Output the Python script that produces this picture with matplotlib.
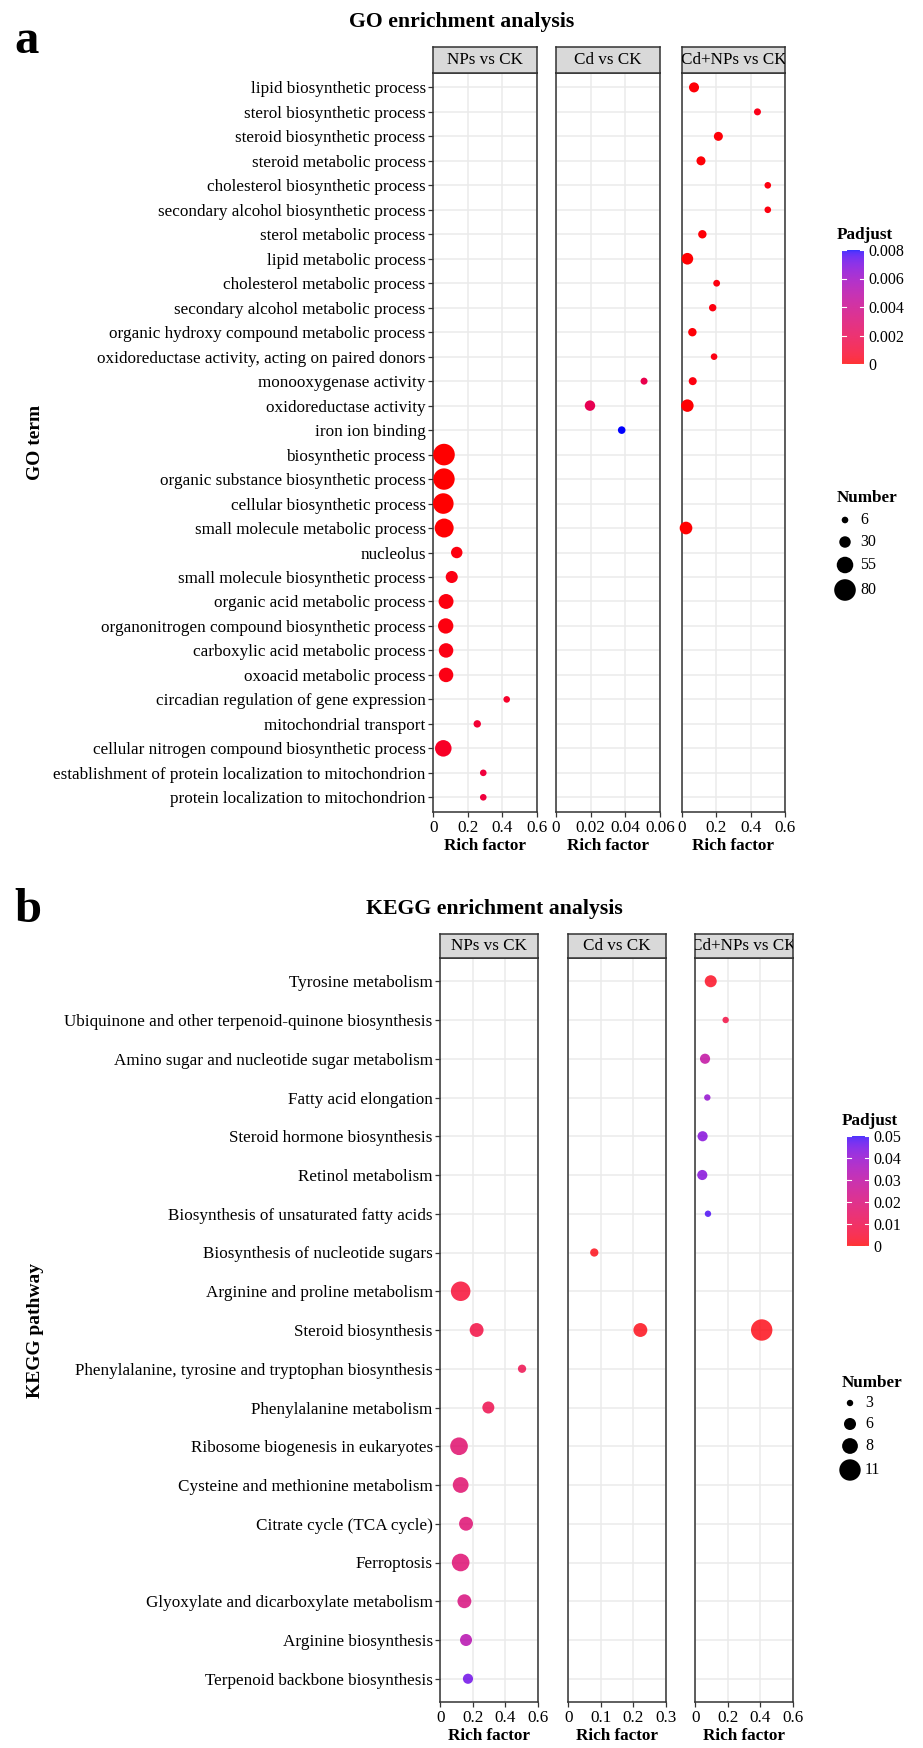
import numpy as np
import matplotlib
matplotlib.use('Agg')
import matplotlib.pyplot as plt
from matplotlib.colors import ListedColormap, Normalize

plt.rcParams['font.family'] = ['Liberation Serif', 'DejaVu Serif']

# ---------------- data ----------------
go_terms = [
    "lipid biosynthetic process", "sterol biosynthetic process", "steroid biosynthetic process",
    "steroid metabolic process", "cholesterol biosynthetic process",
    "secondary alcohol biosynthetic process", "sterol metabolic process", "lipid metabolic process",
    "cholesterol metabolic process", "secondary alcohol metabolic process",
    "organic hydroxy compound metabolic process", "oxidoreductase activity, acting on paired donors",
    "monooxygenase activity", "oxidoreductase activity", "iron ion binding", "biosynthetic process",
    "organic substance biosynthetic process", "cellular biosynthetic process",
    "small molecule metabolic process", "nucleolus", "small molecule biosynthetic process",
    "organic acid metabolic process", "organonitrogen compound biosynthetic process",
    "carboxylic acid metabolic process", "oxoacid metabolic process",
    "circadian regulation of gene expression", "mitochondrial transport",
    "cellular nitrogen compound biosynthetic process",
    "establishment of protein localization to mitochondrion", "protein localization to mitochondrion",
]
go_groups = ["NPs vs CK", "Cd vs CK", "Cd+NPs vs CK"]
nan = np.nan
# NPs vs CK
go_np_rich = [nan]*15 + [0.062, 0.062, 0.058, 0.063, 0.136, 0.107, 0.074, 0.072, 0.074, 0.074,
                         0.426, 0.255, 0.058, 0.290, 0.290]
go_np_num = [nan]*15 + [80, 79, 75, 67, 30, 33, 47, 49, 45, 45, 6, 10, 55, 6, 6]
go_np_padj = [nan]*15 + [0.00001, 0.00001, 0.00002, 0.00005, 0.0002, 0.0003, 0.0002, 0.0002,
                         0.0003, 0.0003, 0.0008, 0.0011, 0.0007, 0.0014, 0.0014]
# Cd vs CK
go_cd_rich = [nan]*12 + [0.0508, 0.0196, 0.0379] + [nan]*15
go_cd_num = [nan]*12 + [8, 25, 11] + [nan]*15
go_cd_padj = [nan]*12 + [0.0019, 0.0021, 0.0080] + [nan]*15
# Cd+NPs vs CK
go_cdnp_rich = [0.0715, 0.44, 0.213, 0.112, 0.50, 0.50, 0.12, 0.033, 0.203, 0.18, 0.062, 0.188,
                0.064, 0.033, nan, nan, nan, nan, 0.025] + [nan]*11
go_cdnp_num = [23, 8, 18, 18, 6, 6, 15, 31, 7, 10, 15, 6, 13, 35, nan, nan, nan, nan, 36] + [nan]*11
go_cdnp_padj = [0.0001, 0.0004, 0.0001, 0.0001, 0.0002, 0.0002, 0.0001, 0.00005, 0.0002, 0.0002,
                0.0001, 0.0003, 0.0002, 0.00005, nan, nan, nan, nan, 0.00005] + [nan]*11

kegg_terms = [
    "Tyrosine metabolism", "Ubiquinone and other terpenoid-quinone biosynthesis",
    "Amino sugar and nucleotide sugar metabolism", "Fatty acid elongation",
    "Steroid hormone biosynthesis", "Retinol metabolism", "Biosynthesis of unsaturated fatty acids",
    "Biosynthesis of nucleotide sugars", "Arginine and proline metabolism", "Steroid biosynthesis",
    "Phenylalanine, tyrosine and tryptophan biosynthesis", "Phenylalanine metabolism",
    "Ribosome biogenesis in eukaryotes", "Cysteine and methionine metabolism",
    "Citrate cycle (TCA cycle)", "Ferroptosis", "Glyoxylate and dicarboxylate metabolism",
    "Arginine biosynthesis", "Terpenoid backbone biosynthesis",
]
kegg_np_rich = [nan]*8 + [0.125, 0.223, 0.502, 0.295, 0.115, 0.125, 0.158, 0.125, 0.148, 0.158, 0.170]
kegg_np_num = [nan]*8 + [10, 7, 4, 6, 9, 8, 7, 9, 7, 6, 5]
kegg_np_padj = [nan]*8 + [0.005, 0.0075, 0.010, 0.010, 0.017, 0.017, 0.018, 0.018, 0.021, 0.032, 0.045]
kegg_cd_rich = [nan]*7 + [0.080, nan, 0.222] + [nan]*9
kegg_cd_num = [nan]*7 + [4, nan, 7] + [nan]*9
kegg_cd_padj = [nan]*7 + [0.001, nan, 0.001] + [nan]*9
kegg_cdnp_rich = [0.095, 0.187, 0.060, 0.074, 0.045, 0.043, 0.078, nan, nan, 0.409] + [nan]*9
kegg_cdnp_num = [6, 3, 5, 3, 5, 5, 3, nan, nan, 11] + [nan]*9
kegg_cdnp_padj = [0.002, 0.0075, 0.029, 0.040, 0.042, 0.042, 0.048, nan, nan, 0.001] + [nan]*9

go_size_breaks = [6, 30, 55, 80]
kegg_size_breaks = [3, 6, 8, 11]

# ---------------- helpers ----------------
W, H = 923, 1748
fig = plt.figure(figsize=(W / 100, H / 100), dpi=100)


def rect(x0, y0, x1, y1):
    return [x0 / W, 1 - y1 / H, (x1 - x0) / W, (y1 - y0) / H]


M = np.array([[0.4124, 0.3576, 0.1805], [0.2126, 0.7152, 0.0722], [0.0193, 0.1192, 0.9505]])
Minv = np.linalg.inv(M)
WHITE = np.array([0.95047, 1.0, 1.08883])
d = 6 / 29


def to_lab(rgb):
    c = np.asarray(rgb, float)
    lin = np.where(c <= 0.04045, c / 12.92, ((c + 0.055) / 1.055) ** 2.4)
    xyz = M @ lin / WHITE
    f = np.where(xyz > d ** 3, np.cbrt(xyz), xyz / (3 * d * d) + 4 / 29)
    return np.array([116 * f[1] - 16, 500 * (f[0] - f[1]), 200 * (f[1] - f[2])])


def from_lab(lab):
    L, a, b = lab
    fy = (L + 16) / 116
    f = np.array([fy + a / 500, fy, fy - b / 200])
    xyz = np.where(f > d, f ** 3, 3 * d * d * (f - 4 / 29)) * WHITE
    lin = np.clip(Minv @ xyz, 0, 1)
    return np.where(lin <= 0.0031308, 12.92 * lin, 1.055 * lin ** (1 / 2.4) - 0.055).clip(0, 1)


lab_lo, lab_hi = to_lab([1, 0, 0]), to_lab([0, 0, 1])
ramp = np.array([from_lab(lab_lo + (lab_hi - lab_lo) * t) for t in np.linspace(0, 1, 256)])
cmap = ListedColormap(ramp)
cmap_light = ListedColormap(ramp * 0.8 + 0.2)


def go_size(n):
    r = 3.3 + 7.5 * (np.asarray(n, float) - 6) / 74
    return (2 * r * 0.72) ** 2


def kegg_size(n):
    r = 3.2 + 7.5 * (np.asarray(n, float) - 3) / 8
    return (2 * r * 0.72) ** 2


EDGE = '#333333'
FS = 12.3


def panel(box, strip_y, terms, rich, num, padj, xlim, xticks, xlabels, norm, size_fn,
          alpha, title, first):
    x0, y0, x1, y1 = box
    ax = fig.add_axes(rect(x0, y0, x1, y1))
    n = len(terms)
    ax.set_xlim(*xlim)
    ax.set_ylim(n - 1 + 0.6, -0.6)
    ax.set_yticks(range(n))
    ax.set_xticks(xticks)
    ax.set_xticklabels(xlabels)
    ax.grid(True, color='#EBEBEB', lw=1.1)
    ax.set_axisbelow(True)
    rich = np.asarray(rich, float)
    m = ~np.isnan(rich)
    ys = np.arange(n)[m]
    ax.scatter(rich[m], ys, s=size_fn(np.asarray(num, float)[m]),
               c=np.asarray(padj, float)[m], cmap=cmap, norm=norm, alpha=alpha,
               linewidths=0, zorder=3, clip_on=False)
    for s in ax.spines.values():
        s.set_color(EDGE)
        s.set_linewidth(1.1)
    ax.tick_params(axis='x', direction='out', length=3.5, width=0.9, color=EDGE,
                   labelsize=FS, pad=2)
    if first:
        ax.set_yticklabels(terms)
        ax.tick_params(axis='y', direction='out', length=3.5, width=0.9, color=EDGE,
                       labelsize=FS, pad=2)
    else:
        ax.tick_params(axis='y', length=0, labelleft=False)
    sa = fig.add_axes(rect(x0, strip_y[0], x1, strip_y[1]))
    sa.set_facecolor('#D9D9D9')
    sa.set_xticks([])
    sa.set_yticks([])
    for s in sa.spines.values():
        s.set_color(EDGE)
        s.set_linewidth(1.1)
    t = sa.text(0.5, 0.5, title, ha='center', va='center', fontsize=FS,
                transform=sa.transAxes)
    t.set_clip_on(True)
    return ax


# ---------------- GO ----------------
go_norm = Normalize(0, 0.008)
go_x = [(433.3, 536.7), (556, 660), (681.7, 785)]
go_y = (72.7, 812)
go_strip = (46.7, 72.7)
go_data = [(go_np_rich, go_np_num, go_np_padj), (go_cd_rich, go_cd_num, go_cd_padj),
           (go_cdnp_rich, go_cdnp_num, go_cdnp_padj)]
go_xl = [((0, 0.6), [0, 0.2, 0.4, 0.6], ["0", "0.2", "0.4", "0.6"]),
         ((0, 0.06), [0, 0.02, 0.04, 0.06], ["0", "0.02", "0.04", "0.06"]),
         ((0, 0.6), [0, 0.2, 0.4, 0.6], ["0", "0.2", "0.4", "0.6"])]
for i in range(3):
    (xa, xb) = go_x[i]
    r_, n_, p_ = go_data[i]
    xlim, xt, xlab = go_xl[i]
    panel((xa, go_y[0], xb, go_y[1]), go_strip, go_terms, r_, n_, p_, xlim, xt, xlab,
          go_norm, go_size, 1.0, go_groups[i], i == 0)

# ---------------- KEGG ----------------
kegg_norm = Normalize(0, 0.05)
kegg_x = [(440.3, 538), (568.3, 665.7), (695.3, 792.7)]
kegg_y = (958, 1702)
kegg_strip = (934, 958)
kegg_data = [(kegg_np_rich, kegg_np_num, kegg_np_padj), (kegg_cd_rich, kegg_cd_num, kegg_cd_padj),
             (kegg_cdnp_rich, kegg_cdnp_num, kegg_cdnp_padj)]
kegg_xl = [((0, 0.6), [0, 0.2, 0.4, 0.6], ["0", "0.2", "0.4", "0.6"]),
           ((0, 0.3), [0, 0.1, 0.2, 0.3], ["0", "0.1", "0.2", "0.3"]),
           ((0, 0.6), [0, 0.2, 0.4, 0.6], ["0", "0.2", "0.4", "0.6"])]
for i in range(3):
    (xa, xb) = kegg_x[i]
    r_, n_, p_ = kegg_data[i]
    xlim, xt, xlab = kegg_xl[i]
    panel((xa, kegg_y[0], xb, kegg_y[1]), kegg_strip, kegg_terms, r_, n_, p_, xlim, xt, xlab,
          kegg_norm, kegg_size, 0.8, go_groups[i], i == 0)

# ---------------- overlay text & legends ----------------
ov = fig.add_axes([0, 0, 1, 1])
ov.set_xlim(0, W)
ov.set_ylim(H, 0)
ov.axis('off')

ov.text(14, 53, 'a', fontsize=35, fontweight='bold', va='baseline', ha='left')
ov.text(14, 922, 'b', fontsize=35, fontweight='bold', va='baseline', ha='left')
ov.text(462, 22, 'GO enrichment analysis', ha='center', va='center', fontsize=15.7,
        fontweight='bold')
ov.text(494, 909, 'KEGG enrichment analysis', ha='center', va='center', fontsize=15.7,
        fontweight='bold')
for xa, xb in go_x:
    ov.text((xa + xb) / 2, 846, 'Rich factor', ha='center', va='center', fontsize=FS,
            fontweight='bold')
for xa, xb in kegg_x:
    ov.text((xa + xb) / 2, 1736, 'Rich factor', ha='center', va='center', fontsize=FS,
            fontweight='bold')
ov.text(35, sum(go_y) / 2, 'GO term', rotation=90, ha='center', va='center', fontsize=14,
        fontweight='bold')
ov.text(35, sum(kegg_y) / 2, 'KEGG pathway', rotation=90, ha='center', va='center',
        fontsize=14, fontweight='bold')


def colorbar(x0, y0, x1, y1, vmax, ticks, labels, title_xy):
    cax = fig.add_axes(rect(x0, y0, x1, y1))
    cax.imshow(np.linspace(0, 1, 256)[:, None], aspect='auto', cmap=cmap_light,
               extent=[0, 1, 0, vmax], origin='lower')
    cax.set_xlim(0, 1)
    cax.set_ylim(0, vmax)
    cax.set_xticks([])
    cax.set_yticks(ticks)
    cax.set_yticklabels(labels)
    cax.yaxis.tick_right()
    cax.tick_params(axis='y', length=0, labelsize=11.5, pad=3)
    for v in ticks:
        cax.plot([0, 0.2], [v, v], color='white', lw=0.8)
        cax.plot([0.8, 1], [v, v], color='white', lw=0.8)
    for s in cax.spines.values():
        s.set_visible(False)
    ov.text(title_xy[0], title_xy[1], 'Padjust', ha='left', va='center', fontsize=FS,
            fontweight='bold')


colorbar(842, 250, 864, 364, 0.008, [0, 0.002, 0.004, 0.006, 0.008],
         ["0", "0.002", "0.004", "0.006", "0.008"], (837, 235))
colorbar(847, 1136, 869, 1246, 0.05, [0, 0.01, 0.02, 0.03, 0.04, 0.05],
         ["0", "0.01", "0.02", "0.03", "0.04", "0.05"], (842, 1121))


def size_legend(x, ytitle, ys, breaks, size_fn):
    ov.text(x - 8, ytitle, 'Number', ha='left', va='center', fontsize=FS, fontweight='bold')
    ov.scatter([x] * len(breaks), ys, s=size_fn(np.array(breaks, float)), color='black',
               linewidths=0)
    for y, b in zip(ys, breaks):
        ov.text(x + 15, y, str(b), ha='left', va='center', fontsize=11.5)


size_legend(845, 498, [520, 542, 565, 590], go_size_breaks, go_size)
size_legend(850, 1383, [1403, 1424, 1446, 1470], kegg_size_breaks, kegg_size)

fig.savefig('out.png', dpi=100)
